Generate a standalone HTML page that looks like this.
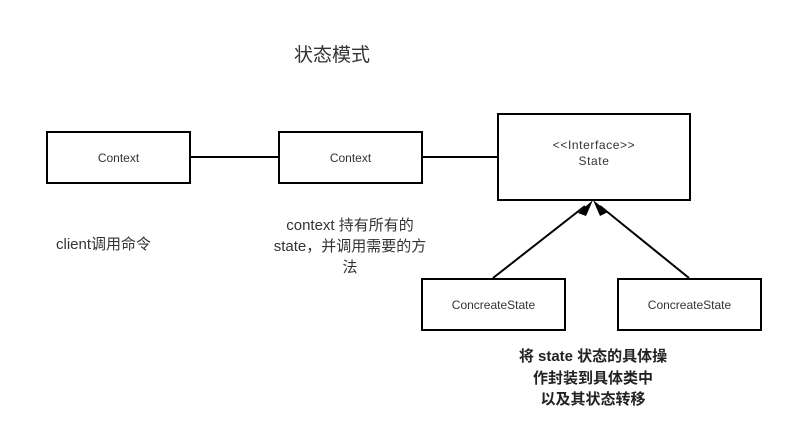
<!DOCTYPE html>
<html><head><meta charset="utf-8"><style>
body{margin:0;background:#fff;width:785px;height:427px;overflow:hidden;position:relative;font-family:"Liberation Sans","Noto Sans CJK SC",sans-serif;color:#333}
.b{position:absolute;border:2px solid #000;box-sizing:border-box;background:#fff;display:flex;align-items:center;justify-content:center;text-align:center;font-size:12px;color:#333}
.t{position:absolute;text-align:center}
</style></head><body>
<svg width="785" height="427" style="position:absolute;left:0;top:0">
<line x1="190" y1="157" x2="278" y2="157" stroke="#000" stroke-width="2"/>
<line x1="422" y1="157" x2="497" y2="157" stroke="#000" stroke-width="2"/>
<line x1="493" y1="278" x2="585" y2="206" stroke="#000" stroke-width="2"/>
<line x1="689" y1="278" x2="600" y2="206" stroke="#000" stroke-width="2"/>
<polygon points="593,200 578,213 586,216" fill="#000"/>
<polygon points="593,200 600,216 608,212" fill="#000"/>
</svg>
<div class="t" style="left:272px;top:40px;width:120px;font-size:19px">状态模式</div>
<div class="b" style="left:46px;top:131px;width:145px;height:53px">Context</div>
<div class="b" style="left:278px;top:131px;width:145px;height:53px">Context</div>
<div class="b" style="left:497px;top:113px;width:194px;height:88px;line-height:16px;padding-bottom:8px;letter-spacing:0.6px">&lt;&lt;Interface&gt;&gt;<br>State</div>
<div class="b" style="left:421px;top:278px;width:145px;height:53px">ConcreateState</div>
<div class="b" style="left:617px;top:278px;width:145px;height:53px">ConcreateState</div>
<div class="t" style="left:56px;top:233px;width:110px;font-size:15px;text-align:left">client调用命令</div>
<div class="t" style="left:260px;top:215px;width:180px;font-size:15px;line-height:21px">context 持有所有的<br>state，并调用需要的方<br>法</div>
<div class="t" style="left:493px;top:346px;width:200px;font-size:15px;line-height:21.5px;font-weight:bold;color:#222">将 state 状态的具体操<br>作封装到具体类中<br>以及其状态转移</div>
</body></html>
